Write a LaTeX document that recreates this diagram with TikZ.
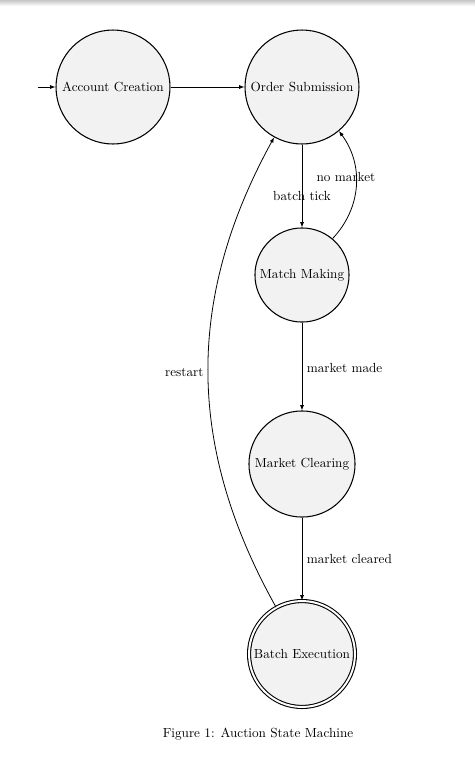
\documentclass[tikz,border=0pt]{standalone}
\usetikzlibrary{arrows.meta}
\begin{document}
\begin{tikzpicture}[x=0.758pt,y=-0.758pt,
  state/.style={circle,draw,line width=0.8pt,fill=gray!10,inner sep=0pt,font=\normalsize},
  edgearrow/.style={-{Latex[length=4pt,width=3pt]},line width=0.6pt},
  lbl/.style={yshift=-1.5pt},
]
\useasboundingbox (0,0) rectangle (475,766);
\shade[top color=gray!45,bottom color=white] (0,0) rectangle (475,6);
\node[state,minimum size=86.4pt] (ac) at (113,87) {Account Creation};
\node[state,minimum size=86.4pt] (os) at (302,87) {Order Submission};
\node[state,minimum size=71.3pt] (mm) at (302,275) {Match Making};
\node[state,minimum size=80.4pt] (mc) at (302,464) {Market Clearing};
\node[state,double,double distance=1.5pt,minimum size=80.3pt] (be) at (302,654) {Batch Execution};
\coordinate (start) at (38,87);
\draw[edgearrow] (start) -- (ac);
\draw[edgearrow] (ac) -- (os);
\draw[edgearrow] (os) -- node[pos=0.6,lbl]{batch tick} (mm);
\draw[edgearrow] (mm) to[bend right=40] node[pos=0.6,xshift=-7.5pt,lbl]{no market} (os);
\draw[edgearrow] (mm) -- node[right,lbl]{market made} (mc);
\draw[edgearrow] (mc) -- node[right]{market cleared} (be);
\draw[edgearrow] (be) to[bend left=29] node[left]{restart} (os);
\node (cap) at (258,734) {Figure 1: Auction State Machine};
\end{tikzpicture}
\end{document}
